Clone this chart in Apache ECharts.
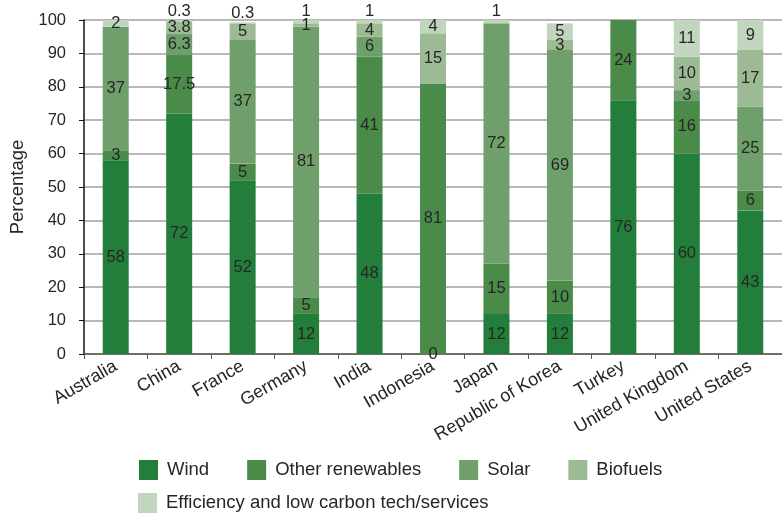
<!DOCTYPE html>
<html><head><meta charset="utf-8">
<script src="https://cdn.jsdelivr.net/npm/echarts@6/dist/echarts.min.js"></script>
<style>html,body{margin:0;padding:0;background:#fff}#c{width:782px;height:514px}</style>
</head><body><div id="c"></div>
<script>
const categories = ['Australia','China','France','Germany','India','Indonesia','Japan','Republic of Korea','Turkey','United Kingdom','United States'];
const wind      = [58, 72, 52, 12, 48, 0, 12, 12, 76, 60, 43];
const otherRen  = [3, 17.5, 5, 5, 41, 81, 15, 10, 24, 16, 6];
const solar     = [37, 6.3, 37, 81, 6, '-', 72, 69, '-', 3, 25];
const biofuels  = ['-', 3.8, 5, 1, 4, 15, '-', 3, '-', 10, 17];
const efficiency= [2, 0.3, 0.3, 1, 1, 4, 1, 5, '-', 11, 9];
const yTicks = [0,10,20,30,40,50,60,70,80,90,100];

const names = ['Wind','Other renewables','Solar','Biofuels','Efficiency and low carbon tech/services'];
const colors = ['#237e3b','#4a8b4a','#6fa06c','#9cbb94','#c2d5bf'];
const FONT = 'Liberation Sans, Arial, sans-serif';

function mk(name, data, color, isTop){
  return {
    name, type:'bar', stack:'t', barWidth:26, data: data.map(v => {
      if (isTop && typeof v === 'number' && v < 2) {
        return {value:v, label:{position:'top', distance:0}};
      }
      return v;
    }),
    itemStyle:{color},
    label:{show:true, position:'inside', color:'#262626', fontSize:16.5, fontFamily:FONT,
      formatter: p => (p.value === '-' || p.value == null) ? '' : String(p.value)},
    emphasis:{disabled:true}
  };
}

const chart = echarts.init(document.getElementById('c'), null, {renderer:'canvas'});
chart.setOption({
  animation:false,
  textStyle:{fontFamily:FONT},
  grid:{left:81, right:-4, top:20, bottom:160, containLabel:false},
  legend:[{
    data: names.slice(0,4), left:139, top:460, padding:0, icon:'rect', itemWidth:19, itemHeight:20, itemGap:38,
    textStyle:{fontSize:18.5, color:'#262626', fontFamily:FONT, padding:[0,0,0,4]}, selectedMode:false
  },{
    data: names.slice(4), left:138, top:493, padding:0, icon:'rect', itemWidth:19, itemHeight:20,
    textStyle:{fontSize:18.5, color:'#262626', fontFamily:FONT, padding:[0,0,0,4]}, selectedMode:false
  }],
  xAxis:{type:'category', data:categories,
    axisLine:{lineStyle:{color:'#555', width:1.5}},
    axisTick:{show:true, length:5, lineStyle:{color:'#555'}},
    axisLabel:{rotate:30, fontSize:18, color:'#262626', margin:11, interval:0, fontFamily:FONT}
  },
  yAxis:{type:'value', min:0, max:100, interval:10,
    name:'Percentage', nameLocation:'middle', nameGap:57, nameRotate:90,
    nameTextStyle:{fontSize:18.5, color:'#262626', fontFamily:FONT},
    axisLine:{show:true, lineStyle:{color:'#111', width:1.5}},
    axisTick:{show:true, length:5, lineStyle:{color:'#111'}},
    axisLabel:{fontSize:16.5, color:'#262626', margin:18, fontFamily:FONT,
      formatter: v => yTicks.includes(v) ? String(v) : ''},
    splitLine:{show:true, lineStyle:{color:'#a0a0a0', width:1.5}}
  },
  series:[
    mk(names[0], wind, colors[0]),
    mk(names[1], otherRen, colors[1]),
    mk(names[2], solar, colors[2]),
    mk(names[3], biofuels, colors[3]),
    mk(names[4], efficiency, colors[4], true)
  ]
});
</script></body></html>
